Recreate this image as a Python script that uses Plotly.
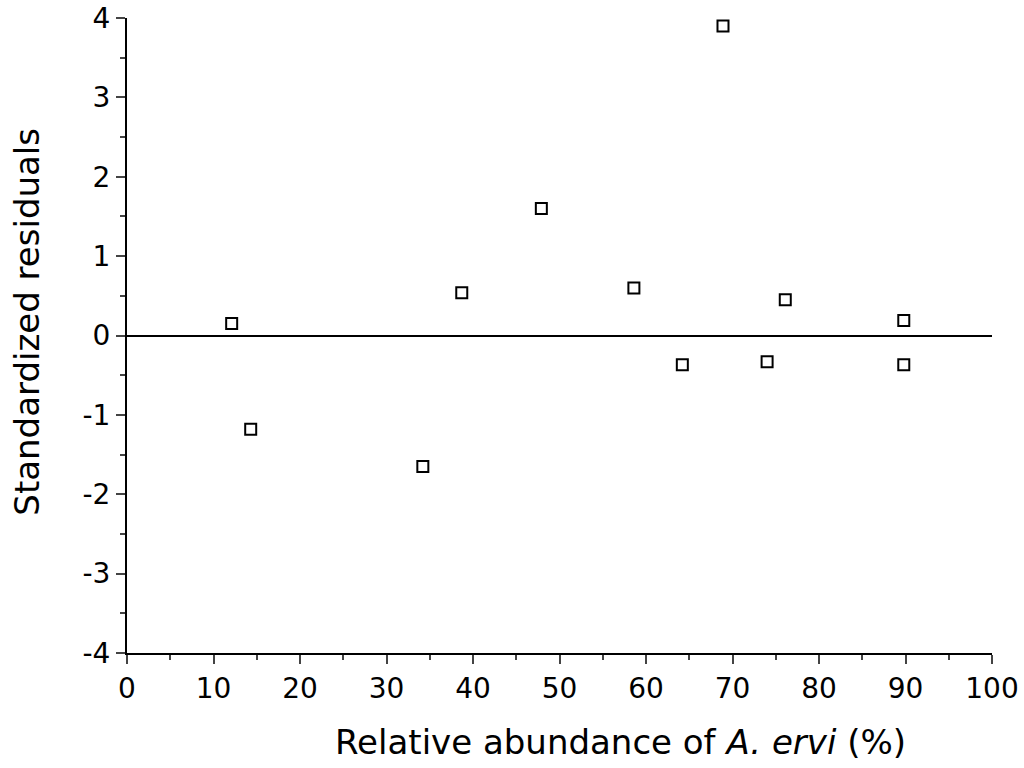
import plotly.graph_objects as go

abundance = [12.1, 14.3, 34.2, 38.7, 47.9, 58.6, 64.2, 68.9, 74.0, 76.1, 89.8, 89.8]
residuals = [0.15, -1.18, -1.65, 0.54, 1.60, 0.60, -0.37, 3.90, -0.33, 0.45, 0.19, -0.37]

x_ticks = [0, 10, 20, 30, 40, 50, 60, 70, 80, 90, 100]
x_labels = ["0", "10", "20", "30", "40", "50", "60", "70", "80", "90", "100"]
y_ticks = [-4, -3, -2, -1, 0, 1, 2, 3, 4]
y_labels = ["-4", "-3", "-2", "-1", "0", "1", "2", "3", "4"]

x_title = "Relative abundance of <i>A. ervi</i> (%)"
y_title = "Standardized residuals"

fig = go.Figure()
fig.add_trace(go.Scatter(
    x=abundance, y=residuals, mode="markers",
    marker=dict(symbol="square-open", size=11, color="black", line=dict(width=2, color="black")),
    showlegend=False, cliponaxis=False,
))

font_family = "DejaVu Sans, Verdana, sans-serif"
fig.update_layout(
    width=1024, height=768,
    margin=dict(l=127, r=32, t=18, b=115, autoexpand=False),
    paper_bgcolor="white", plot_bgcolor="white",
    font=dict(family=font_family, color="black"),
    xaxis=dict(
        range=[0, 100], tickvals=x_ticks, ticktext=x_labels, ticks="outside", ticklen=9, tickwidth=2,
        showline=True, linecolor="black", linewidth=2, showgrid=False, zeroline=False,
        tickfont=dict(size=28), automargin=False, ticklabeloverflow="allow",
        minor=dict(dtick=5, ticks="outside", ticklen=5, tickwidth=2, showgrid=False),
    ),
    yaxis=dict(
        range=[-4, 4], tickvals=y_ticks, ticktext=y_labels, ticks="outside", ticklen=9, tickwidth=2,
        showline=True, linecolor="black", linewidth=2, showgrid=False,
        zeroline=True, zerolinecolor="black", zerolinewidth=2,
        tickfont=dict(size=28), automargin=False, ticklabeloverflow="allow",
        minor=dict(dtick=0.5, ticks="outside", ticklen=5, tickwidth=2, showgrid=False),
    ),
    annotations=[
        dict(text=x_title, xref="paper", yref="paper", x=0.570, y=-0.140,
             xanchor="center", yanchor="middle", showarrow=False, font=dict(size=34)),
        dict(text=y_title, xref="paper", yref="paper", x=-0.115, y=0.521, textangle=-90,
             xanchor="center", yanchor="middle", showarrow=False, font=dict(size=34)),
    ],
)

fig.write_html("out.html", config={"displayModeBar": False},
               post_script="document.body.style.margin='0';document.body.style.overflow='hidden';")
